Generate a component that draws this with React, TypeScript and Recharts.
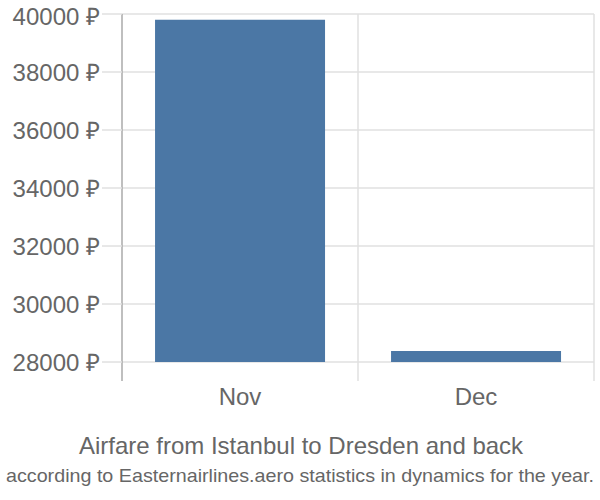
import { BarChart, Bar, XAxis, YAxis, CartesianGrid } from 'recharts';

const months = ['Nov', 'Dec'];
const prices = [39800, 28380];
const baseline = 28000;
const yTicks = [28000, 30000, 32000, 34000, 36000, 38000, 40000];
const title = 'Airfare from Istanbul to Dresden and back';
const subtitle = 'according to Easternairlines.aero statistics in dynamics for the year.';

const data = months.map((m, i) => ({ name: m, price: [baseline, prices[i]] }));

const font = '"Liberation Sans", Arial, sans-serif';

function App() {
    return (
        <div style={{ position: 'absolute', left: 0, top: 0, width: 600, height: 500, fontFamily: font }}>
            <BarChart width={600} height={420} data={data} margin={{ top: 14, right: 6, left: 0, bottom: 9 }} barCategoryGap="14%">
                <CartesianGrid
                    stroke="#e0e0e0"
                    strokeWidth={1.5}
                    verticalCoordinatesGenerator={({ offset }: any) =>
                        months.map((_, i) => offset.left + (offset.width * (i + 1)) / months.length)
                    }
                    horizontalValues={yTicks}
                />
                <XAxis
                    dataKey="name"
                    height={30}
                    axisLine={false}
                    tickLine={false}
                    tickSize={0}
                    tickMargin={7}
                    tick={{ fill: '#666', fontSize: 24 }}
                />
                <YAxis
                    width={122}
                    domain={[27345, 40000]}
                    ticks={yTicks}
                    allowDataOverflow
                    axisLine={{ stroke: '#aaa', strokeWidth: 1.5 }}
                    tickLine={{ stroke: '#e0e0e0', strokeWidth: 1.5 }}
                    tickSize={20}
                    tickMargin={2}
                    tickFormatter={(v: number) => `${v} ₽`}
                    tick={{ fill: '#666', fontSize: 24 }}
                />
                <Bar dataKey="price" fill="#4b77a5" isAnimationActive={false} />
            </BarChart>
            <svg width={600} height={80} style={{ position: 'absolute', left: 0, top: 420 }}>
                <text x={301} y={34} textAnchor="middle" fill="#666" fontSize={24} fontFamily={font}>
                    {title}
                </text>
                <text x={300} y={62} textAnchor="middle" fill="#666" fontSize={19} fontFamily={font} textLength={588} lengthAdjust="spacingAndGlyphs">
                    {subtitle}
                </text>
            </svg>
        </div>
    );
}

export default App;
